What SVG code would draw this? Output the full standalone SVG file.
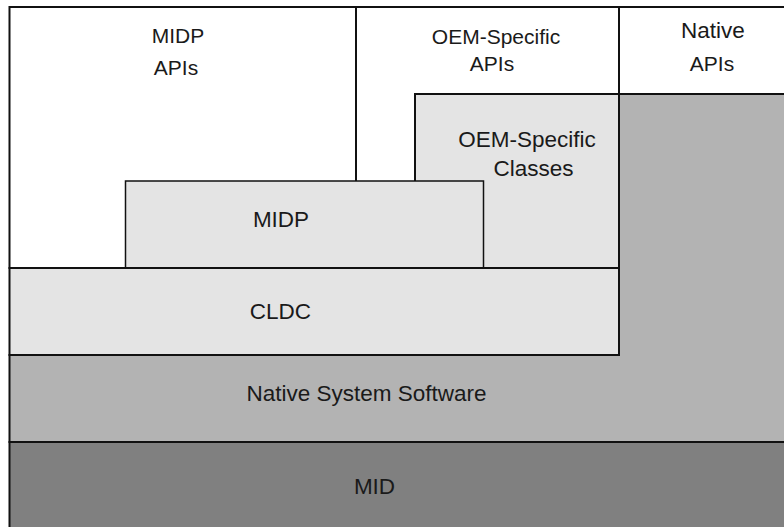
<svg xmlns="http://www.w3.org/2000/svg" width="784" height="527" viewBox="0 0 784 527">
<style>
.ln{stroke:#111;stroke-width:2;stroke-linejoin:miter}
.thin{stroke:#111;stroke-width:1.5}
.w{fill:#ffffff}
.l{fill:#e4e4e4}
.m{fill:#b3b3b3}
.d{fill:#808080}
text{font-family:"Liberation Sans",Arial,sans-serif;font-size:21px;fill:#1a1a1a;text-anchor:middle}
.big{font-size:22.5px}
</style>
<rect x="0" y="0" width="784" height="527" fill="#ffffff"/>
<g id="midp-apis">
<rect class="w ln" x="9.5" y="7" width="346.5" height="261"/>
<text x="178" y="43">MIDP</text>
<text x="176" y="75">APIs</text>
</g>
<g id="oem-apis">
<rect class="w ln" x="356" y="7" width="263" height="261"/>
<text x="496" y="44">OEM-Specific</text>
<text x="492" y="71">APIs</text>
</g>
<g id="native-apis">
<rect class="w ln" x="619" y="7" width="168" height="87"/>
<text class="big" x="713" y="38">Native</text>
<text x="712" y="70.5">APIs</text>
</g>
<g id="native-system-software">
<path class="m ln" d="M9.5,355 L619,355 L619,94 L787,94 L787,442 L9.5,442 Z"/>
<text class="big" x="366.5" y="401">Native System Software</text>
</g>
<g id="oem-classes">
<rect class="l ln" x="415" y="94" width="204" height="174"/>
<text class="big" x="527" y="146.5">OEM-Specific</text>
<text class="big" x="533.5" y="175.5">Classes</text>
</g>
<g id="midp">
<rect class="l thin" x="125.5" y="181" width="358" height="87"/>
<text class="big" x="281" y="227">MIDP</text>
</g>
<g id="cldc">
<rect class="l ln" x="9.5" y="268" width="609.5" height="87"/>
<text class="big" x="280.5" y="319">CLDC</text>
</g>
<g id="mid">
<rect class="d ln" x="9.5" y="442" width="778" height="90"/>
<text class="big" x="374.5" y="494">MID</text>
</g>
</svg>
